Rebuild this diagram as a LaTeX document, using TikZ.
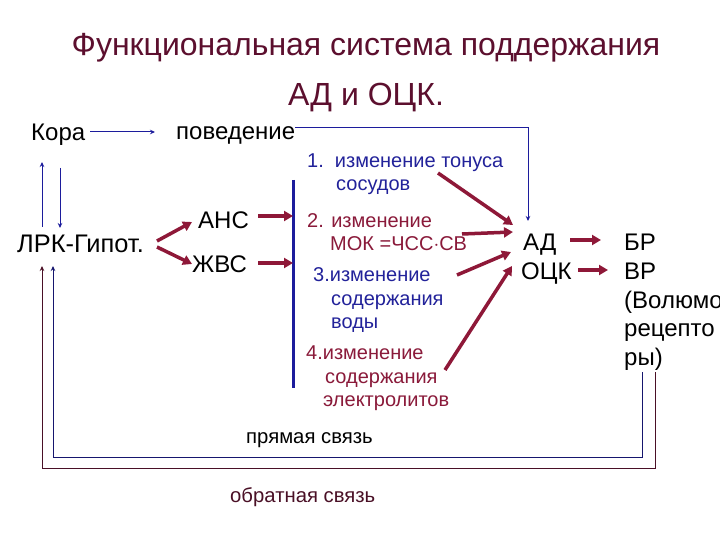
\documentclass[tikz,border=0pt]{standalone}
\usepackage{fontspec}
\setmainfont{Liberation Sans}
\usetikzlibrary{arrows.meta}
\definecolor{titlec}{HTML}{5C0F2E}
\definecolor{mar}{HTML}{8E1838}
\definecolor{blu}{HTML}{1C1C9C}
\definecolor{navy}{HTML}{16166E}
\definecolor{dmar}{HTML}{4A1026}
\definecolor{txtblue}{HTML}{22229A}
\definecolor{txtmar}{HTML}{8A1A3A}
\tikzset{
  lbl/.style={anchor=base west, inner sep=0pt, font=\fontsize{24}{28}\selectfont, text=black},
  itemblue/.style={anchor=base west, inner sep=0pt, font=\fontsize{20}{24}\selectfont, text=txtblue},
  itemmar/.style={anchor=base west, inner sep=0pt, font=\fontsize{20}{24}\selectfont, text=txtmar},
  small/.style={anchor=base west, inner sep=0pt, font=\fontsize{20.3}{24}\selectfont},
  thin/.style={draw=blu, line width=1pt, -{Stealth[length=5pt,width=4.5pt]}},
  thick/.style={draw=mar, line width=3.5pt, -{Triangle[length=9pt,width=10pt]}},
  fbblue/.style={draw=navy, line width=1pt, -{Stealth[length=5pt,width=4.5pt]}},
  fbmar/.style={draw=dmar, line width=1pt, -{Stealth[length=5pt,width=4.5pt]}},
}
\begin{document}
\begin{tikzpicture}[x=1pt,y=-1pt]
\useasboundingbox[fill=white] (0,0) rectangle (720,540);
% title
\node[anchor=base, inner sep=0pt, text=titlec, font=\fontsize{32}{36}\selectfont] (t1) at (366,56) {Функциональная система поддержания};
\node[anchor=base, inner sep=0pt, text=titlec, font=\fontsize{32}{36}\selectfont] (t2) at (366,106) {АД и ОЦК.};
% left labels
\node[lbl] (kora) at (31,141) {Кора};
\node[lbl] (pov) at (176,140) {поведение};
\node[lbl, font=\fontsize{25.4}{28}\selectfont] (lrk) at (17,252) {ЛРК-Гипот.};
\node[lbl] (ans) at (198,229) {АНС};
\node[lbl] (zhvs) at (192,272) {ЖВС};
% items
\node[itemblue] (i1a) at (307,168) {1.\ \ изменение тонуса};
\node[itemblue] (i1b) at (336,191) {сосудов};
\node[itemmar] (i2a) at (307,228) {2. изменение};
\node[itemmar] (i2b) at (330,250) {МОК =ЧСС$\cdot$СВ};
\node[itemblue] (i3a) at (313,281) {3.изменение};
\node[itemblue] (i3b) at (331,305) {содержания};
\node[itemblue] (i3c) at (331,328) {воды};
\node[itemmar] (i4a) at (306,359) {4.изменение};
\node[itemmar] (i4b) at (325,383) {содержания};
\node[itemmar] (i4c) at (323,406) {электролитов};
% right
\node[lbl] (ad) at (523,251) {АД};
\node[lbl] (ock) at (521,279) {ОЦК};
\node[lbl] (br) at (624,251) {БР};
\node[lbl] (vr) at (624,279.5) {ВР};
\node[lbl] (vol) at (624,308) {(Волюмо};
\node[lbl] (rec) at (624,336.5) {рецепто};
\node[lbl] (ry) at (624,365) {ры)};
% feedback labels
\node[small] (pr) at (246,443) {прямая связь};
\node[small, text=dmar] (ob) at (230,502) {обратная связь};
% coordinates
\coordinate (bartop) at (293,180);
\coordinate (barbot) at (293,388);
\coordinate (adtop) at (528,221);
\coordinate (k1) at (90,132);
\coordinate (k2) at (155,132);
% blue bar
\draw[blu, line width=3pt] (bartop) -- (barbot);
% Кора -> поведение
\draw[thin] (k1) -- (k2);
% поведение -> АД
\draw[thin] ([yshift=8pt]pov.east) -| (adtop);
% Кора <-> ЛРК
\draw[thin] (42,227) coordinate (u1) -- (42,162) coordinate (u2);
\draw[thin] (60,168) coordinate (d1) -- (60,228) coordinate (d2);
% ЛРК -> АНС, ЖВС
\draw[thick] (157,241) coordinate (l1) -- (192,222);
\draw[thick] (157,247) coordinate (l2) -- (192,264);
% АНС, ЖВС -> bar
\draw[thick] (258,216) coordinate (a1) -- (bartop |- a1);
\draw[thick] (258,263) coordinate (z1) -- (bartop |- z1);
% items -> АД
\draw[thick] (438,173) coordinate (p1) -- (513,225);
\draw[thick] (462,234) coordinate (p2) -- (513,232);
\draw[thick] (457,275) coordinate (p3) -- (511,252);
\draw[thick] (445,370) coordinate (p4) -- (512,266);
% АД -> БР, ОЦК -> ВР
\draw[thick] (570,240) coordinate (b1) -- (601,240);
\draw[thick] (578,270) coordinate (b2) -- (608,270);
% feedback loops
\draw[fbblue] (642,372) coordinate (f1) |- (53,457) -- (53,266);
\draw[fbmar] (655,372) coordinate (f2) |- (42,468) -- (42,266);
\end{tikzpicture}
\end{document}
